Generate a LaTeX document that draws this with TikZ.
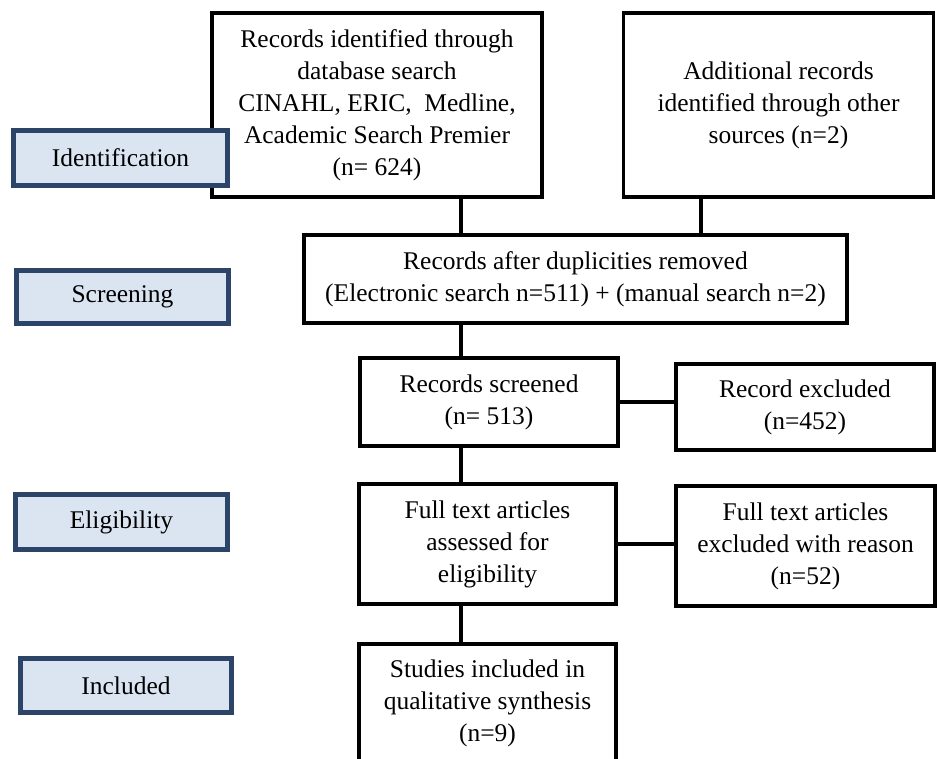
\documentclass[tikz,border=0pt]{standalone}
\usepackage{fontspec}
\setmainfont{Liberation Serif}
\usepackage{tikz}
\usetikzlibrary{calc, positioning, shadows}
\definecolor{stagefill}{HTML}{DBE5F1}
\definecolor{stageline}{HTML}{2B4467}
\tikzset{
    flowbox/.style={rectangle, draw=black, line width=2pt, fill=white, align=center, inner sep=2pt,
        font=\fontsize{14.5}{18.2}\selectfont},
    stagebox/.style={rectangle, draw=stageline, line width=2.8pt, fill=stagefill, align=center,
        drop shadow={shadow xshift=1pt, shadow yshift=-1pt, fill=gray!35},
        font=\fontsize{14.5}{18.2}\selectfont},
    link/.style={line width=2.8pt, line cap=rect},
}

\begin{document}
\begin{tikzpicture}[x=0.02cm, y=-0.02cm]
            \useasboundingbox (0,0) rectangle (937,759);
            \clip (0,0) rectangle (937,759);
            % flow boxes (centres in pixel units)
            \node[flowbox, minimum width=6.6cm, minimum height=3.68cm] (rec) at (377,105)
                {Records identified through\\database search\\CINAHL, ERIC,~ Medline,\\Academic Search Premier\\(n= 624)};
            \node[flowbox, minimum width=6.2cm, minimum height=3.68cm] (addl) at (778.5,105)
                {Additional records\\identified through other\\sources (n=2)};
            \node[flowbox, minimum width=10.86cm, minimum height=1.76cm] (dedup) at (575.5,279)
                {Records after duplicities removed\\(Electronic search n=511) + (manual search n=2)};
            \node[flowbox, minimum width=5.16cm, minimum height=1.76cm] (screened) at (489,402)
                {Records screened\\(n= 513)};
            \node[flowbox, minimum width=5.16cm, minimum height=1.72cm] (excl) at (805,407)
                {Record excluded\\(n=452)};
            \node[flowbox, minimum width=5.14cm, minimum height=2.4cm] (fulltext) at (487.5,544)
                {Full text articles\\assessed for\\eligibility};
            \node[flowbox, minimum width=5.18cm, minimum height=2.4cm] (ftexcl) at (805.5,546)
                {Full text articles\\excluded with reason\\(n=52)};
            \node[flowbox, minimum width=5.14cm, minimum height=2.36cm] (incl) at (487.5,703)
                {Studies included in\\qualitative synthesis\\(n=9)};
            % stage labels on the left
            \node[stagebox, minimum width=4.28cm, minimum height=1.1cm] (identif) at (120.5,158) {Identification};
            \node[stagebox, minimum width=4.24cm, minimum height=1.06cm] (screen) at (122.5,297) {Screening};
            \node[stagebox, minimum width=4.24cm, minimum height=1.1cm] (elig) at (121.5,522) {Eligibility};
            \node[stagebox, minimum width=4.22cm, minimum height=1.08cm] (included) at (126,685.5) {Included};
            % connectors
            \coordinate (spine) at (461,0);
            \coordinate (spineB) at (701,0);
            \draw[link] (rec.south -| spine) -- (dedup.north -| spine);
            \draw[link] (addl.south -| spineB) -- (dedup.north -| spineB);
            \draw[link] (dedup.south -| spine) -- (screened.north -| spine);
            \draw[link] (screened.south -| spine) -- (fulltext.north -| spine);
            \draw[link] (fulltext.south -| spine) -- (incl.north -| spine);
            \draw[link] (screened.east) -- (screened.east -| excl.west);
            \draw[link] (fulltext.east) -- (fulltext.east -| ftexcl.west);
        \end{tikzpicture}
\end{document}
